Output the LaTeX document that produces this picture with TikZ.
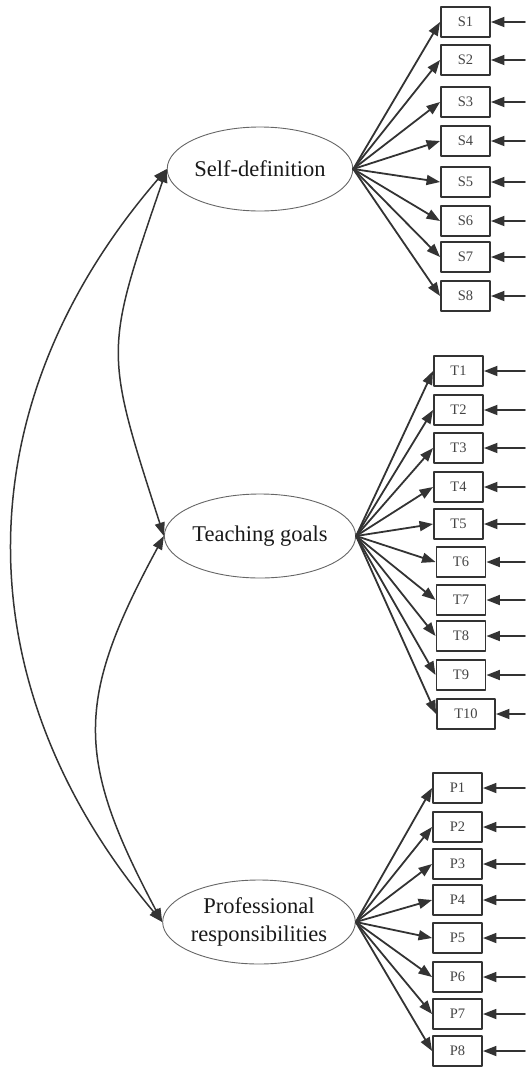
\documentclass[tikz,border=0pt]{standalone}
\usepackage{fontspec}
\setmainfont{Liberation Serif}
\usetikzlibrary{arrows.meta,shapes.geometric}
\definecolor{ink}{HTML}{333333}
\definecolor{rim}{HTML}{666666}
\definecolor{label}{HTML}{444444}

\begin{document}
\begin{tikzpicture}[x=1pt,y=-1pt,>={Triangle[length=13.5pt,width=10pt]},
  line cap=round,line join=round,
  latent/.style={ellipse,draw=rim,line width=.9pt,minimum width=184pt,
    minimum height=84pt,inner sep=0pt,align=center,text=black!90,
    font=\fontsize{22.5}{28}\selectfont},
  item/.style={draw=ink,line width=1.9pt,minimum width=49pt,
    minimum height=30pt,inner sep=0pt,text=label,
    font=\fontsize{14.5}{16}\selectfont},
  load/.style={->,ink,line width=1.8pt},
  cov/.style={<->,ink,line width=1.5pt}]
  \useasboundingbox (0,0) rectangle (526,1068);

  % latent factors
  \node[latent] (SD) at (260,169) {Self-definition};
  \node[latent] (TG) at (260,536) {Teaching goals};
  \node[latent] (PR) at (259,922) {Professional\\responsibilities};

  % Self-definition items
  \foreach \n/\y in {1/22,2/60,3/102,4/141,5/182,6/221,7/257,8/296} {
    \node[item] (S\n) at (465.5,\y) {S\n};
    \coordinate (eS\n) at (525,\y);
    \draw[load] (SD.east) -- (S\n.west);
    \draw[load] (eS\n) -- (S\n.east);
  }

  % Teaching goals items
  \foreach \n/\x/\y in {1/458.5/371,2/458.5/410,3/458.5/448,4/458.5/487,
      5/458.5/524,6/461/562,7/461/600,8/461/636,9/461/675} {
    \node[item] (T\n) at (\x,\y) {T\n};
    \coordinate (eT\n) at (525,\y);
    \draw[load] (TG.east) -- (T\n.west);
    \draw[load] (eT\n) -- (T\n.east);
  }
  \node[item,minimum width=58pt] (T10) at (466,714) {T10};
  \coordinate (eT10) at (525,714);
  \draw[load] (TG.east) -- (T10.west);
  \draw[load] (eT10) -- (T10.east);

  % Professional responsibilities items
  \foreach \n/\y in {1/788,2/827,3/864,4/900,5/938,6/977,7/1014,8/1051} {
    \node[item] (P\n) at (457.5,\y) {P\n};
    \coordinate (eP\n) at (525,\y);
    \draw[load] (PR.east) -- (P\n.west);
    \draw[load] (eP\n) -- (P\n.east);
  }

  % covariances
  \draw[cov] (SD.west) .. controls (-38,406) and (-38,684) .. (PR.west);
  \draw[cov] (SD.west) .. controls (104,352) and (104,350) .. (TG.west);
  \draw[cov] (TG.west) .. controls (75,700) and (75,758) .. (PR.west);
\end{tikzpicture}
\end{document}
